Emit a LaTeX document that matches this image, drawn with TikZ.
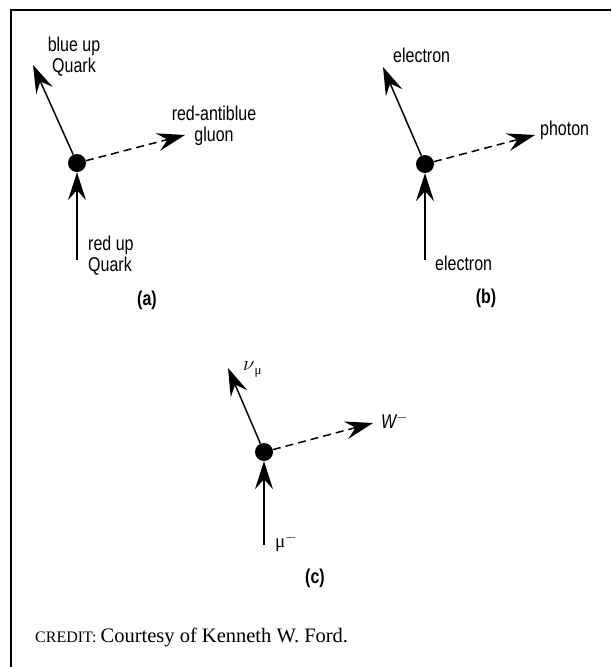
\documentclass[tikz,border=0pt]{standalone}
\usepackage{fontspec}
\setmainfont{Liberation Serif}
\newfontfamily\lab[FakeStretch=0.8]{Liberation Sans}
\usetikzlibrary{arrows.meta}
\begin{document}
\begin{tikzpicture}[x=1pt,y=-1pt,
  lbl/.style={font=\lab\fontsize{20}{21}\selectfont, inner sep=0pt},
  capl/.style={font=\lab\bfseries\fontsize{20}{21}\selectfont, inner sep=0pt},
  vtx/.style={circle, fill=black, minimum size=18pt, inner sep=0pt},
  ln/.style={line width=1.5pt, -{Stealth[length=28pt, width=18pt, inset=10pt]}},
  dsh/.style={ln, dash pattern=on 8pt off 5pt},
  frame/.style={line width=2.5pt}
]
\useasboundingbox (0,0) rectangle (611,667);
\coordinate (f1) at (611,10);
\coordinate (f2) at (11,10);
\coordinate (f3) at (11,667);
\draw[frame] (f1) -- (f2) -- (f3);

% (a)
\node[vtx] (a-dot) at (77,163) {};
\coordinate (a-tip1) at (33,65);
\coordinate (a-tip2) at (185,135);
\coordinate (a-in) at (77,260);
\draw[ln] (a-dot) -- (a-tip1);
\draw[dsh] (a-dot) -- (a-tip2);
\draw[ln] (a-in) -- (a-dot);
\node[lbl, align=center] (a-l1) at (74,57) {blue up\\Quark};
\node[lbl, align=center] (a-l2) at (214,126) {red-antiblue\\gluon};
\node[lbl, align=left, anchor=west] (a-l3) at (88,256) {red up\\Quark};
\node[capl] (a-cap) at (147,300) {(a)};

% (b)
\node[vtx] (b-dot) at (425,164) {};
\coordinate (b-tip1) at (383,67);
\coordinate (b-tip2) at (535,135);
\coordinate (b-in) at (425,260);
\draw[ln] (b-dot) -- (b-tip1);
\draw[dsh] (b-dot) -- (b-tip2);
\draw[ln] (b-in) -- (b-dot);
\node[lbl, anchor=west] (b-l1) at (393,55) {electron};
\node[lbl, anchor=west] (b-l2) at (540,130) {photon};
\node[lbl, anchor=west] (b-l3) at (435,263) {electron};
\node[capl] (b-cap) at (486,298) {(b)};

% (c)
\node[vtx] (c-dot) at (264,452) {};
\coordinate (c-tip1) at (228,368);
\coordinate (c-tip2) at (373,423);
\coordinate (c-in) at (264,545);
\draw[ln] (c-dot) -- (c-tip1);
\draw[dsh] (c-dot) -- (c-tip2);
\draw[ln] (c-in) -- (c-dot);
\node[inner sep=0pt, anchor=west, font=\fontsize{20}{22}\selectfont] (c-l1) at (243,369) {$\nu$\raisebox{-4pt}{\fontsize{13}{14}\selectfont μ}};
\node[lbl, anchor=west] (c-l2) at (381,421) {\itshape W$^{-}$};
\node[inner sep=0pt, anchor=west, font=\fontsize{19}{21}\selectfont] (c-l3) at (275,542) {μ$^{-}$};
\node[capl] (c-cap) at (315,578) {(c)};

% credit
\node[inner sep=0pt, anchor=base west] (credit) at (35,642) {{\fontsize{16}{18}\selectfont CREDIT:}\hspace{4pt}{\fontsize{20.5}{24}\selectfont Courtesy of Kenneth W. Ford.}};
\end{tikzpicture}
\end{document}
